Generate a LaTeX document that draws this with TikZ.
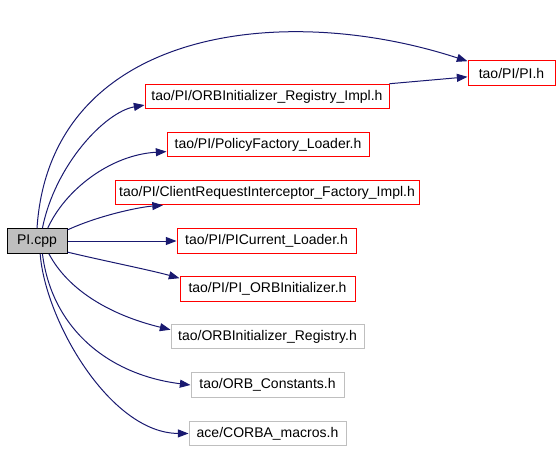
\documentclass[tikz,border=0pt]{standalone}
\usepackage{fontspec}
\setmainfont{Liberation Sans}
\usetikzlibrary{arrows.meta}
\definecolor{edgeblue}{HTML}{191970}
\definecolor{boxgrey}{HTML}{BFBFBF}
\tikzset{
  file/.style={draw=red,line width=0.75pt,inner sep=0pt,minimum height=18.4pt,font=\fontsize{10.5}{12}\selectfont},
  sysfile/.style={file,draw=boxgrey},
  dep/.style={draw=edgeblue,line width=0.75pt,-{Triangle[length=8pt,width=6pt]}}
}
\begin{document}
\begin{tikzpicture}[x=0.75pt,y=-0.75pt]
\useasboundingbox (0,0) rectangle (560,449);
\node [file,draw=black,fill=boxgrey,minimum width=45pt] (cpp) at (37,241) {PI.cpp};
\node [file,minimum width=65.25pt] (pih) at (511.5,73) {tao/PI/PI.h};
\node [file,minimum width=183pt] (regimpl) at (267,96.5) {tao/PI/ORBInitializer\_Registry\_Impl.h};
\node [file,minimum width=151.5pt] (policy) at (268,144.5) {tao/PI/PolicyFactory\_Loader.h};
\node [file,minimum width=228pt] (client) at (267,192.5) {tao/PI/ClientRequestInterceptor\_Factory\_Impl.h};
\node [file,minimum width=134.25pt] (current) at (266.5,241) {tao/PI/PICurrent\_Loader.h};
\node [file,minimum width=131.25pt] (piorb) at (267.5,289) {tao/PI/PI\_ORBInitializer.h};
\node [sysfile,minimum width=144.75pt] (orbreg) at (267.5,336.5) {tao/ORBInitializer\_Registry.h};
\node [sysfile,minimum width=114.75pt] (orbconst) at (267.5,385) {tao/ORB\_Constants.h};
\node [sysfile,minimum width=117.75pt] (corba) at (267.5,433.5) {ace/CORBA\_macros.h};
% include edges
\draw [dep] (cpp.north) .. controls (50,30) and (280,0) .. (pih.165);
\draw [dep] (regimpl.north east) -- (pih.185);
\draw [dep] (cpp.67) .. controls (55,165) and (105,112) .. (regimpl.184);
\draw [dep] (cpp.50) .. controls (65,190) and (110,155) .. (policy.184);
\draw [dep] (cpp.20) .. controls (100,215) and (140,207) .. (client.187);
\draw [dep] (cpp.east) -- (current.west);
\draw [dep] (cpp.-20) .. controls (100,260) and (150,270) .. (piorb.173);
\draw [dep] (cpp.-47) .. controls (68,290) and (110,315) .. (orbreg.176);
\draw [dep] (cpp.-67) .. controls (52,330) and (110,375) .. (orbconst.west);
\draw [dep] (cpp.-76) .. controls (45,320) and (110,433) .. (corba.west);
\end{tikzpicture}
\end{document}
